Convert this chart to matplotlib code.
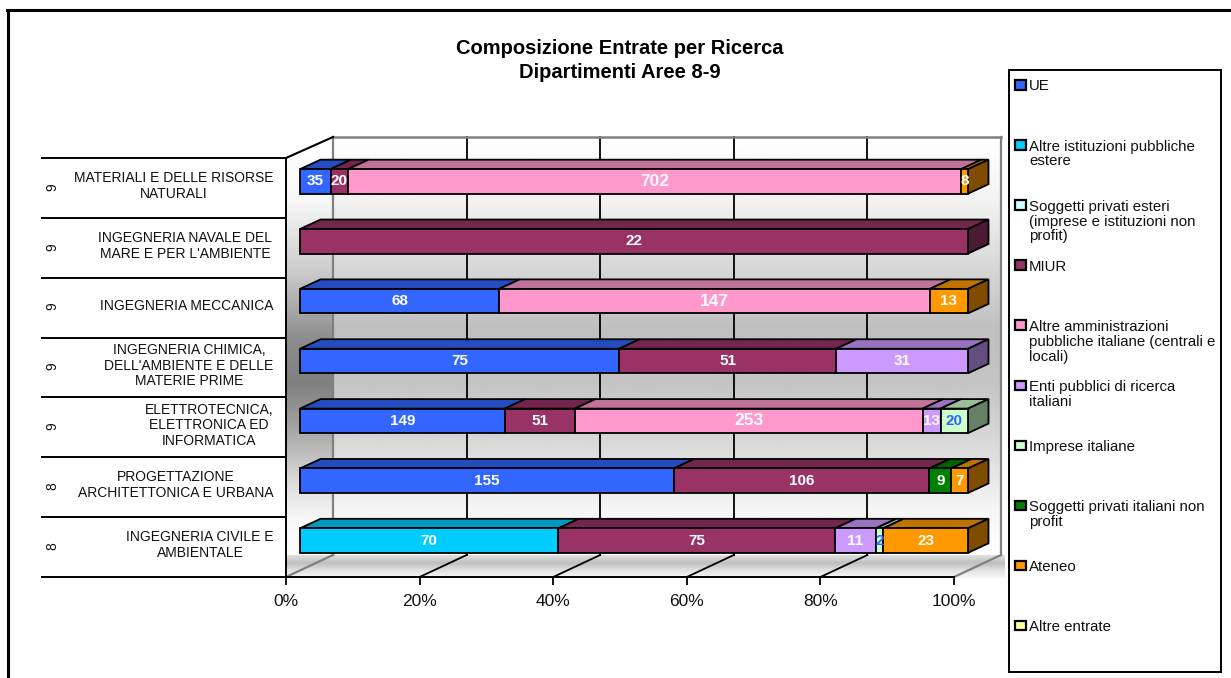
import numpy as np
import matplotlib
matplotlib.use("Agg")
import matplotlib.pyplot as plt
from matplotlib.lines import Line2D
from matplotlib.patches import Polygon, Rectangle

plt.rcParams['font.family'] = ['Liberation Sans', 'DejaVu Sans']
plt.rcParams['image.composite_image'] = False

# Data, bottom row first
departments = [
    "INGEGNERIA CIVILE E\nAMBIENTALE",
    "PROGETTAZIONE\nARCHITETTONICA E URBANA",
    "ELETTROTECNICA,\nELETTRONICA ED\nINFORMATICA",
    "INGEGNERIA CHIMICA,\nDELL'AMBIENTE E DELLE\nMATERIE PRIME",
    "INGEGNERIA MECCANICA",
    "INGEGNERIA NAVALE DEL\nMARE E PER L'AMBIENTE",
    "MATERIALI E DELLE RISORSE\nNATURALI",
]
areas = ["8", "8", "9", "9", "9", "9", "9"]

series_names = [
    "UE",
    "Altre istituzioni pubbliche\nestere",
    "Soggetti privati esteri\n(imprese e istituzioni non\nprofit)",
    "MIUR",
    "Altre amministrazioni\npubbliche italiane (centrali e\nlocali)",
    "Enti pubblici di ricerca\nitaliani",
    "Imprese italiane",
    "Soggetti privati italiani non\nprofit",
    "Ateneo",
    "Altre entrate",
]
ue = [0, 155, 149, 75, 68, 0, 35]
altre_istituzioni = [70, 0, 0, 0, 0, 0, 0]
privati_esteri = [0, 0, 0, 0, 0, 0, 0]
miur = [75, 106, 51, 51, 0, 22, 20]
altre_amministrazioni = [0, 0, 253, 0, 147, 0, 702]
enti_pubblici = [11, 0, 13, 31, 0, 0, 0]
imprese = [2, 0, 20, 0, 0, 0, 0]
privati_italiani = [0, 9, 0, 0, 0, 0, 0]
ateneo = [23, 7, 0, 0, 13, 0, 8]
altre_entrate = [0, 0, 0, 0, 0, 0, 0]

series_values = np.array([ue, altre_istituzioni, privati_esteri, miur, altre_amministrazioni,
                          enti_pubblici, imprese, privati_italiani, ateneo, altre_entrate], dtype=float)
series_colors = ["#3366FF", "#00CCFF", "#CCFFFF", "#993366", "#FF99CC",
                 "#CC99FF", "#CCFFCC", "#008000", "#FF9900", "#FFFF99"]
label_colors = ["white"] * 6 + ["#3366FF"] + ["white"] * 3
label_sizes = [11, 11, 11, 11, 12.5, 11, 11, 11, 11, 11]

# Layout in reference pixels
W, H = 1231, 678
X0, X100 = 286, 954
Y_TOP, Y_FLOOR = 158, 577
PX_PER_PCT = (X100 - X0) / 100
PX_PER_ROW = (Y_FLOOR - Y_TOP) / 7
label_x_px = [200, 176, 209, 189, 187, 185, 174]


def dx(px):
    return px / PX_PER_PCT


def dy(px):
    return px / PX_PER_ROW


def to_x(px):
    return (px - X0) / PX_PER_PCT


def to_y(px):
    return (Y_FLOOR - px) / PX_PER_ROW


def darker(color, factor):
    return tuple(c * factor for c in matplotlib.colors.to_rgb(color))


def gradient(ax, extent, y_nodes, v_nodes, clip=None):
    ys = np.linspace(extent[3], extent[2], 200)
    vals = np.interp(ys, [to_y(n) for n in y_nodes][::-1], v_nodes[::-1]).reshape(-1, 1)
    im = ax.imshow(vals, cmap="gray", vmin=0, vmax=1, extent=extent, aspect="auto",
                   origin="upper", zorder=1, clip_on=False)
    if clip is not None:
        im.set_clip_on(True)
        im.set_clip_path(clip)
    return im


fig = plt.figure(figsize=(W / 100, H / 100), dpi=100, facecolor="white")
ax = fig.add_axes([X0 / W, 1 - Y_FLOOR / H, (X100 - X0) / W, (Y_FLOOR - Y_TOP) / H])
ax.patch.set_alpha(0)
ax.set_xlim(0, 100)
ax.set_ylim(0, 7)

# Walls and floor
wall_top, wall_bottom = 137, 555
depth_x = dx(47)
gradient(ax, [to_x(333), to_x(1002), to_y(wall_bottom), to_y(wall_top)],
         [137, 200, 270, 330, 385, 450, 510, 555], [1, .95, .84, .75, .77, .86, .96, 1])
side = Polygon([(0, 0), (0, 7), (depth_x, to_y(wall_top)), (depth_x, to_y(wall_bottom))],
               transform=ax.transData, fill=False, lw=0)
ax.add_patch(side)
gradient(ax, [0, depth_x, 0, to_y(wall_top)],
         [137, 200, 270, 340, 385, 430, 480, 520, 577], [1, .97, .8, .55, .5, .65, .85, .97, 1], clip=side)
gradient(ax, [0, to_x(1005), to_y(578), to_y(wall_bottom)],
         [555, 563, 570, 578], [.88, .75, .88, .97])

# Gridlines on the back wall and floor
for pct in [20, 40, 60, 80]:
    ax.plot([pct + depth_x] * 2, [to_y(wall_bottom), to_y(wall_top)], color="black", lw=1.3, zorder=2, clip_on=False)
    ax.plot([pct, pct + depth_x], [0, to_y(wall_bottom)], color="black", lw=1.3, zorder=2, clip_on=False)
for pct in [0, 100]:
    ax.plot([pct + depth_x] * 2, [to_y(wall_bottom), to_y(wall_top)], color="#808080", lw=1.6, zorder=2, clip_on=False)
    ax.plot([pct, pct + depth_x], [0, to_y(wall_bottom)], color="#808080", lw=1.6, zorder=2, clip_on=False)
ax.plot([depth_x, 100 + depth_x], [to_y(wall_top)] * 2, color="#808080", lw=1.8, zorder=2, clip_on=False)
ax.plot([0, depth_x], [7, to_y(wall_top)], color="black", lw=1.5, zorder=2, clip_on=False)

# Stacked 3D bars
bar_off = dx(14)
bar_h = dy(24.5)
top_x, top_y = dx(20.5), dy(9.5)
rows = np.arange(len(departments)) + 0.5 + dy(6.5)
shares = series_values / series_values.sum(axis=0) * 100
lefts = np.zeros(len(departments))
last_nonzero = [np.nonzero(series_values[:, r])[0].max() for r in range(len(departments))]
for s, color in enumerate(series_colors):
    for r, y in enumerate(rows):
        w = shares[s, r]
        if w == 0:
            continue
        x0 = lefts[r] + bar_off
        x1 = x0 + w
        ytop = y + bar_h / 2
        ybot = y - bar_h / 2
        ax.add_patch(Polygon([(x0, ytop), (x1, ytop), (x1 + top_x, ytop + top_y), (x0 + top_x, ytop + top_y)],
                             facecolor=darker(color, .75), edgecolor="black", lw=1.3, zorder=3, clip_on=False))
        if s == last_nonzero[r]:
            ax.add_patch(Polygon([(x1, ybot), (x1, ytop), (x1 + top_x, ytop + top_y), (x1 + top_x, ybot + top_y)],
                                 facecolor=darker(color, .5), edgecolor="black", lw=1.3, zorder=3, clip_on=False))
        ax.text(x0 + w / 2, y, f"{series_values[s, r]:.0f}", color=label_colors[s], fontsize=label_sizes[s],
                fontweight="bold", ha="center", va="center", zorder=6, clip_on=False)
    ax.barh(rows, shares[s], left=lefts + bar_off, height=bar_h, color=color, edgecolor="black",
            linewidth=np.where(shares[s] > 0, 1.3, 0), zorder=4, clip_on=False)
    lefts += shares[s]

# Axes
ax.set_xlim(0, 100)
ax.set_ylim(0, 7)
ax.set_xticks([0, 20, 40, 60, 80, 100], ["0%", "20%", "40%", "60%", "80%", "100%"], fontsize=12.5, color="#111111")
ax.tick_params(axis="x", length=6, width=1.3, pad=6)
ax.set_yticks(np.arange(8), [""] * 8)
ax.tick_params(axis="y", length=(X0 - 41) * 0.72, width=1.4)
for name in ["top", "right"]:
    ax.spines[name].set_visible(False)
for name in ["left", "bottom"]:
    ax.spines[name].set_linewidth(1.4)
    ax.spines[name].set_zorder(5)

# Row labels
for r, name in enumerate(departments):
    ax.text(to_x(label_x_px[r]), r + 0.5 + dy(2), name, ha="center", va="center", fontsize=10,
            linespacing=1.15, color="#111111", clip_on=False)
    ax.text(to_x(52), r + 0.5 + dy(1), areas[r], ha="center", va="center", rotation=90, fontsize=10,
            color="#111111", clip_on=False)

# Title
fig.text(620 / W, 1 - 48 / H, "Composizione Entrate per Ricerca", ha="center", va="center", fontsize=14.5, fontweight="bold")
fig.text(620 / W, 1 - 72 / H, "Dipartimenti Aree 8-9", ha="center", va="center", fontsize=14.5, fontweight="bold")

# Outer frame
fig.add_artist(Line2D([7.5 / W, 7.5 / W], [0, 1 - 9.5 / H], color="black", lw=2.2))
fig.add_artist(Line2D([6.5 / W, 1], [1 - 9.5 / H, 1 - 9.5 / H], color="black", lw=2.2))

# Legend
fig.add_artist(Rectangle((1008.5 / W, 1 - 672 / H), 212.5 / W, 602 / H, transform=fig.transFigure,
                         facecolor="white", edgecolor="black", lw=1.4))
for i, (name, color) in enumerate(zip(series_names, series_colors)):
    yc = 85 + 60.1 * i
    fig.add_artist(Rectangle((1014.5 / W, 1 - (yc + 4.5) / H), 11 / W, 9.5 / H, transform=fig.transFigure,
                             facecolor=color, edgecolor="black", lw=1.6))
    fig.text(1029 / W, 1 - (yc - 5.5) / H, name, ha="left", va="top", fontsize=10.8, linespacing=1.08, color="#111111")

plt.savefig("out.png", dpi=100)
